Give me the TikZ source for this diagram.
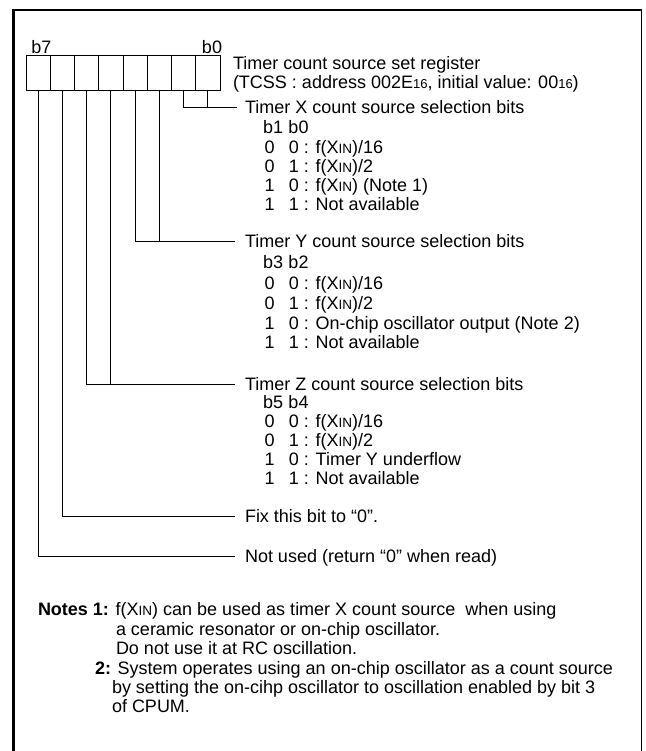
\documentclass[tikz,border=0pt]{standalone}
\usepackage{fontspec}
\setmainfont{Liberation Sans}
\newcommand{\xin}{X{\fontsize{13.5}{13.5}\selectfont IN}}
\newcommand{\sml}[1]{{\fontsize{13}{13}\selectfont #1}}
\newcommand{\rw}[2]{\makebox[24.5pt][l]{#1}#2}
\tikzset{
  lab/.style={anchor=west, inner sep=0pt, outer sep=0pt, text height=12.6pt, text depth=0pt, font=\fontsize{18}{21}\selectfont},
  bitbox/.style={draw, line width=0.8pt, minimum width=24.25pt, minimum height=35pt, inner sep=0pt, outer sep=0pt},
  conn/.style={line width=0.8pt},
  frameline/.style={line width=#1}
}
\begin{document}
\begin{tikzpicture}[x=1pt,y=-1pt]
\useasboundingbox (0,0) rectangle (645,751);
% frame
\draw[frameline=3pt] (13.5,751) -- (13.5,10.2);
\draw[frameline=2.5pt] (12,10.2) -- (642,10.2);
\draw[frameline=1.2pt] (641.7,10) -- (641.7,751);
% register boxes
\node[bitbox] (b7) at (38.125,72.5) {};
\node[bitbox] (b6) at (62.375,72.5) {};
\node[bitbox] (b5) at (86.625,72.5) {};
\node[bitbox] (b4) at (110.875,72.5) {};
\node[bitbox] (b3) at (135.125,72.5) {};
\node[bitbox] (b2) at (159.375,72.5) {};
\node[bitbox] (b1) at (183.625,72.5) {};
\node[bitbox] (b0) at (207.875,72.5) {};
\node[lab, anchor=center] (l7) at (41.5,47) {b7};
\node[lab, anchor=center] (l0) at (212,47) {b0};
% title
\node[lab] (t1) at (233,63) {Timer count source set register};
\node[lab] (t2) at (233,82) {(TCSS : address 002E\sml{16}, initial value: 00\sml{16})};
% Timer X
\node[lab] (tx) at (245,107) {Timer X count source selection bits};
\node[lab] (txh) at (263,127.5) {\makebox[25.5pt][l]{b1}b0};
\node[lab] (txa) at (264.5,147.5) {\rw{0}{0 : f(\xin)/16}};
\node[lab] (txb) at (264.5,166.5) {\rw{0}{1 : f(\xin)/2}};
\node[lab] (txc) at (264.5,185.5) {\rw{1}{0 : f(\xin) (Note 1)}};
\node[lab] (txd) at (264.5,204) {\rw{1}{1 : Not available}};
% Timer Y
\node[lab] (ty) at (245,241) {Timer Y count source selection bits};
\node[lab] (tyh) at (263,262) {\makebox[25.5pt][l]{b3}b2};
\node[lab] (tya) at (264.5,283) {\rw{0}{0 : f(\xin)/16}};
\node[lab] (tyb) at (264.5,303) {\rw{0}{1 : f(\xin)/2}};
\node[lab] (tyc) at (264.5,323) {\rw{1}{0 : On-chip oscillator output (Note 2)}};
\node[lab] (tyd) at (264.5,342) {\rw{1}{1 : Not available}};
% Timer Z
\node[lab] (tz) at (245,384) {Timer Z count source selection bits};
\node[lab] (tzh) at (263,402) {\makebox[25.5pt][l]{b5}b4};
\node[lab] (tza) at (264.5,421) {\rw{0}{0 : f(\xin)/16}};
\node[lab] (tzb) at (264.5,440) {\rw{0}{1 : f(\xin)/2}};
\node[lab] (tzc) at (264.5,459) {\rw{1}{0 : Timer Y underflow}};
\node[lab] (tzd) at (264.5,478) {\rw{1}{1 : Not available}};
% others
\node[lab] (fx) at (245,516) {Fix this bit to “0”.};
\node[lab] (nu) at (245,556) {Not used (return “0” when read)};
% connectors
\coordinate (jx) at ([xshift=-8pt]tx.west);
\coordinate (jy) at ([xshift=-10pt]ty.west);
\coordinate (jz) at ([xshift=-10pt]tz.west);
\coordinate (jf) at ([xshift=-10pt]fx.west);
\coordinate (jn) at ([xshift=-10pt]nu.west);
\draw[conn] (b0.south) -- (b0.south |- jx);
\draw[conn] (b1.south) |- (jx);
\draw[conn] (b2.south) -- (b2.south |- jy);
\draw[conn] (b3.south) |- (jy);
\draw[conn] (b4.south) -- (b4.south |- jz);
\draw[conn] (b5.south) |- (jz);
\draw[conn] (b6.south) |- (jf);
\draw[conn] (b7.south) |- (jn);
% notes
\node[lab] (n1) at (38,609) {\textbf{Notes 1:} f(\xin) can be used as timer X count source \ when using};
\node[lab] (n2) at (116,629) {a ceramic resonator or on-chip oscillator.};
\node[lab] (n3) at (116,648) {Do not use it at RC oscillation.};
\node[lab] (n4) at (95,668) {\textbf{2:} System operates using an on-chip oscillator as a count source};
\node[lab] (n5) at (112,687) {by setting the on-cihp oscillator to oscillation enabled by bit 3};
\node[lab] (n6) at (112,706) {of CPUM.};
\end{tikzpicture}
\end{document}
